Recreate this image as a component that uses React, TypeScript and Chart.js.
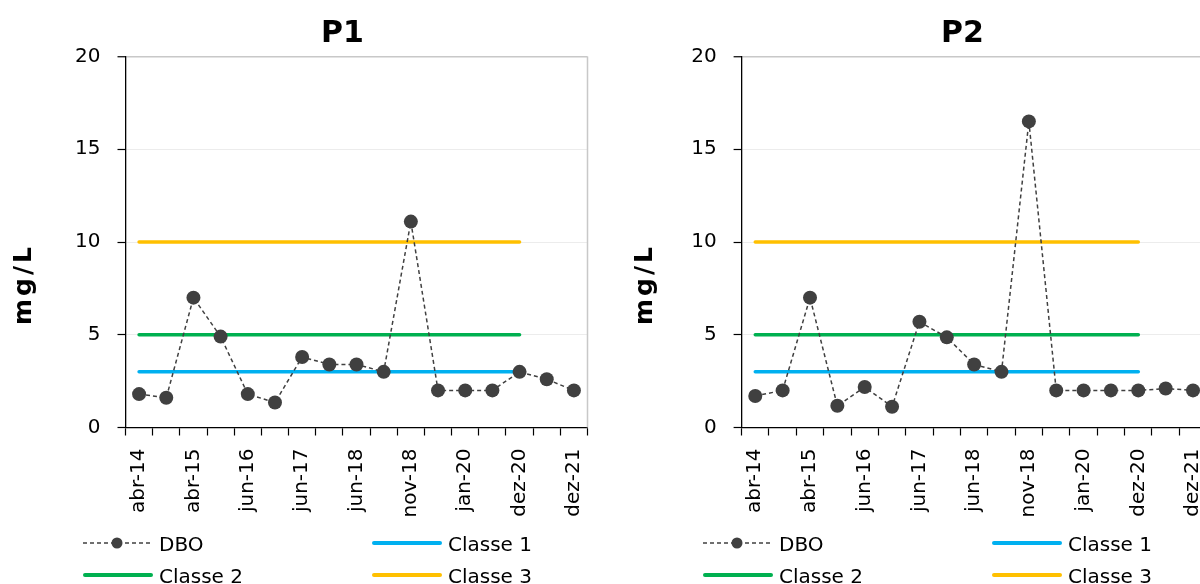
import React, { useEffect, useRef } from "react";
import { Chart, registerables } from "chart.js";

Chart.register(...registerables);

// ---- Data ----
const xLabels = ["abr-14", "", "abr-15", "", "jun-16", "", "jun-17", "", "jun-18", "", "nov-18", "", "jan-20", "", "dez-20", "", "dez-21"];
const dboP1 = [1.8, 1.6, 7.0, 4.9, 1.8, 1.35, 3.8, 3.4, 3.4, 3.0, 11.1, 2.0, 2.0, 2.0, 3.0, 2.6, 2.0];
const dboP2 = [1.7, 2.0, 7.0, 1.17, 2.18, 1.12, 5.7, 4.86, 3.4, 3.0, 16.5, 2.0, 2.0, 2.0, 2.0, 2.1, 2.0];
const classe1 = [3, 3, 3, 3, 3, 3, 3, 3, 3, 3, 3, 3, 3, 3, 3];
const classe2 = [5, 5, 5, 5, 5, 5, 5, 5, 5, 5, 5, 5, 5, 5, 5];
const classe3 = [10, 10, 10, 10, 10, 10, 10, 10, 10, 10, 10, 10, 10, 10, 10];
const seriesNames = ["DBO", "Classe 1", "Classe 2", "Classe 3"];
const seriesColors = ["#404040", "#00B0F0", "#00B050", "#FFC000"];
const yMin = 0;
const yMax = 20;
const yStep = 5;
const yTitle = "mg/L";
const panelTitles = ["P1", "P2"];

const FONT = "'DejaVu Sans', Verdana, sans-serif";
const W = 600;
const H = 584;
const PLOT_TOP = 56.5;
const PLOT_BOTTOM = 427.5;
const X_AXIS_H = 100;

const decorPlugin = {
  id: "decor",
  beforeDatasetsDraw(chart: any) {
    const ctx = chart.ctx;
    const ca = chart.chartArea;
    ctx.save();
    ctx.strokeStyle = "#c8c8c8";
    ctx.lineWidth = 1.5;
    ctx.beginPath();
    ctx.moveTo(ca.right, ca.top);
    ctx.lineTo(ca.right, ca.bottom);
    ctx.stroke();
    ctx.restore();
  },
  afterDraw(chart: any, _args: any, opts: any) {
    const ctx = chart.ctx;
    ctx.save();
    // title
    ctx.fillStyle = "#000";
    ctx.font = `bold 30px ${FONT}`;
    ctx.textAlign = "center";
    ctx.textBaseline = "alphabetic";
    ctx.fillText(opts.title, 342.5, 42);
    // y axis title
    ctx.save();
    ctx.translate(opts.yTitleX, 286);
    ctx.rotate(-Math.PI / 2);
    ctx.font = `bold 25px ${FONT}`;
    try {
      (ctx as any).letterSpacing = "3px";
    } catch (e) {}
    ctx.textAlign = "center";
    ctx.textBaseline = "middle";
    ctx.fillText(yTitle, 1.5, 0);
    ctx.restore();
    // legend
    const pos = [
      { x: 83, y: 543 },
      { x: 372, y: 543 },
      { x: 83, y: 575 },
      { x: 372, y: 575 },
    ];
    chart.data.datasets.forEach((ds: any, i: number) => {
      const p = pos[i];
      ctx.save();
      if (i === 0) {
        ctx.strokeStyle = ds.borderColor;
        ctx.lineWidth = 1.5;
        ctx.setLineDash([4, 3]);
        ctx.beginPath();
        ctx.moveTo(p.x, p.y);
        ctx.lineTo(p.x + 68, p.y);
        ctx.stroke();
        ctx.setLineDash([]);
        ctx.fillStyle = ds.borderColor;
        ctx.beginPath();
        ctx.arc(p.x + 34, p.y, 5.5, 0, Math.PI * 2);
        ctx.fill();
      } else {
        ctx.strokeStyle = ds.borderColor;
        ctx.lineWidth = 4;
        ctx.lineCap = "round";
        ctx.beginPath();
        ctx.moveTo(p.x + 2, p.y);
        ctx.lineTo(p.x + 68, p.y);
        ctx.stroke();
      }
      ctx.restore();
      ctx.fillStyle = "#000";
      ctx.font = `20px ${FONT}`;
      ctx.textAlign = "left";
      ctx.textBaseline = "alphabetic";
      ctx.fillText(ds.label, p.x + 76, p.y + 7.5);
    });
    ctx.restore();
  },
};

function makeChart(canvas: HTMLCanvasElement, title: string, dbo: number[], yWidth: number, plotRight: number, yTitleX: number) {
  return new Chart(canvas, {
    type: "line",
    data: {
      labels: xLabels,
      datasets: [
        {
          label: seriesNames[0],
          data: dbo,
          borderColor: seriesColors[0],
          backgroundColor: seriesColors[0],
          borderWidth: 1.5,
          borderDash: [4, 3],
          pointRadius: 7,
          pointBackgroundColor: seriesColors[0],
          pointBorderColor: seriesColors[0],
          pointBorderWidth: 0,
          tension: 0,
        },
        {
          label: seriesNames[1],
          data: classe1,
          borderColor: seriesColors[1],
          backgroundColor: seriesColors[1],
          borderWidth: 3.5,
          borderCapStyle: "round",
          pointRadius: 0,
        },
        {
          label: seriesNames[2],
          data: classe2,
          borderColor: seriesColors[2],
          backgroundColor: seriesColors[2],
          borderWidth: 3.5,
          borderCapStyle: "round",
          pointRadius: 0,
        },
        {
          label: seriesNames[3],
          data: classe3,
          borderColor: seriesColors[3],
          backgroundColor: seriesColors[3],
          borderWidth: 3.5,
          borderCapStyle: "round",
          pointRadius: 0,
        },
      ],
    },
    options: {
      responsive: false,
      animation: false,
      devicePixelRatio: 1,
      layout: {
        padding: { top: PLOT_TOP, left: 0, right: W - plotRight, bottom: H - PLOT_BOTTOM - X_AXIS_H },
      },
      plugins: {
        legend: { display: false },
        title: { display: false },
        tooltip: { enabled: false },
        decor: { title, yTitleX },
      } as any,
      scales: {
        x: {
          type: "category",
          offset: true,
          grid: {
            offset: true,
            drawOnChartArea: false,
            drawTicks: true,
            tickLength: 8,
            tickColor: "#000",
            tickWidth: 1.2,
          },
          border: { color: "#000", width: 1.3 },
          ticks: {
            autoSkip: false,
            maxRotation: 90,
            minRotation: 90,
            padding: 13,
            color: "#000",
            font: { family: FONT, size: 20 },
          },
          afterFit: (s: any) => {
            s.height = X_AXIS_H;
            s.paddingLeft = 0;
            s.paddingRight = 0;
          },
        },
        y: {
          min: yMin,
          max: yMax,
          ticks: {
            stepSize: yStep,
            padding: 17,
            color: "#000",
            font: { family: FONT, size: 20 },
          },
          grid: {
            color: (c: any) => (c.tick && c.tick.value === yMax ? "#c8c8c8" : "#ececec"),
            lineWidth: (c: any) => (c.tick && c.tick.value === yMax ? 1.5 : 1),
            tickColor: "#000",
            tickLength: 8,
            tickWidth: 1.2,
          },
          border: { color: "#000", width: 1.3 },
          title: { display: false },
          afterFit: (s: any) => {
            s.width = yWidth;
            s.paddingTop = 0;
            s.paddingBottom = 0;
          },
        },
      },
    } as any,
    plugins: [decorPlugin],
  });
}

export default function App() {
  const r1 = useRef<HTMLCanvasElement>(null);
  const r2 = useRef<HTMLCanvasElement>(null);
  useEffect(() => {
    const c1 = makeChart(r1.current!, panelTitles[0], dboP1, 125.5, 587.5, 24);
    const c2 = makeChart(r2.current!, panelTitles[1], dboP2, 121.6, 586.7, 25);
    return () => {
      c1.destroy();
      c2.destroy();
    };
  }, []);
  return (
    <div style={{ position: "fixed", left: 0, top: 0, width: 1200, height: 584, overflow: "hidden", background: "#fff" }}>
      <canvas ref={r1} width={W} height={H} style={{ position: "absolute", left: 0, top: 0, width: W, height: H }} />
      <canvas ref={r2} width={W} height={H} style={{ position: "absolute", left: 620, top: 0, width: W, height: H }} />
    </div>
  );
}
